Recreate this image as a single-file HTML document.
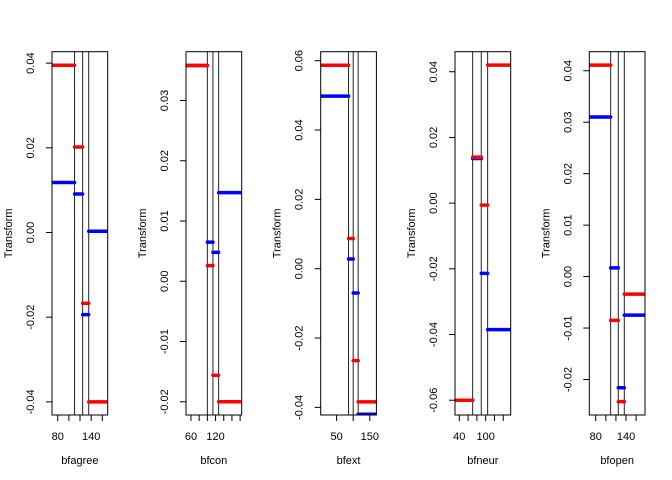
<!DOCTYPE html>
<html><head><meta charset="utf-8"><style>
body{margin:0;background:#fff}
svg{display:block;font-family:"Liberation Sans",Arial,sans-serif}
</style></head><body>
<svg id="chart" width="672" height="480" viewBox="0 0 672 480"></svg>
<script>
const varNames=["bfagree","bfcon","bfext","bfneur","bfopen"];
const boxLeft=[52,186,320.7,455,589.3];
const xLims=[[69.7,169.7],[47.9,183.8],[2,170],[30.2,157],[67.3,177.6]];
const yLims=[[-0.0431,0.0427],[-0.0222,0.0381],[-0.0422,0.0626],[-0.0645,0.0461],[-0.0269,0.0437]];
const xTicks=[[80,100,120,140,160],[60,80,100,120,140,160,180],[50,100,150],[40,60,80,100,120,140],[80,100,120,140,160]];
const xTickLabels=[["80","","","140",""],["60","","","120","","",""],["50","","150"],["40","","","100","",""],["80","","","140",""]];
const yTicks=[[-0.04,-0.02,0,0.02,0.04],[-0.02,-0.01,0,0.01,0.02,0.03],[-0.04,-0.02,0,0.02,0.04,0.06],[-0.06,-0.04,-0.02,0,0.02,0.04],[-0.02,-0.01,0,0.01,0.02,0.03,0.04]];
const yTickLabels=[["-0.04","-0.02","0.00","0.02","0.04"],["-0.02","-0.01","0.00","0.01","0.02","0.03"],["-0.04","-0.02","0.00","0.02","0.04","0.06"],["-0.06","-0.04","-0.02","0.00","0.02","0.04"],["-0.02","-0.01","0.00","0.01","0.02","0.03","0.04"]];
const cuts=[[110.2,124.7,135.6],[100,113.6,127.5],[86,100,115],[70.4,90,104.5],[109.6,124.7,136.6]];
const blueVals=[[0.0118,0.0091,-0.0194,0.0003],[0.0358,0.0065,0.0048,0.0147],[0.0498,0.0028,-0.0070,-0.042],[-0.06,0.0136,-0.0214,-0.0385],[0.031,0.0017,-0.0216,-0.0075]];
const redVals=[[0.0395,0.0202,-0.0167,-0.04],[0.0358,0.0026,-0.0156,-0.02],[0.0587,0.0087,-0.0265,-0.0384],[-0.06,0.014,-0.0006,0.042],[0.0411,-0.0085,-0.0243,-0.0034]];

const NS="http://www.w3.org/2000/svg";
const svg=document.getElementById('chart');
const TOP=51.7,BOT=415,W=55.7;
function mk(tag,attrs,parent){const e=document.createElementNS(NS,tag);for(const k in attrs)e.setAttribute(k,attrs[k]);(parent||svg).appendChild(e);return e;}
varNames.forEach((nm,p)=>{
  const L=boxLeft[p],R=L+W;
  const xs=v=>L+(v-xLims[p][0])/(xLims[p][1]-xLims[p][0])*W;
  const ys=v=>BOT-(v-yLims[p][0])/(yLims[p][1]-yLims[p][0])*(BOT-TOP);
  const g=mk('g',{});
  
  
  const cid='clip'+p;
  const cp=mk('clipPath',{id:cid},g);mk('rect',{x:L,y:TOP,width:W,height:BOT-TOP},cp);
  const bounds=[xLims[p][0],...cuts[p],xLims[p][1]];
  cuts[p].forEach(c=>{
    const l=mk('line',{x1:xs(c),x2:xs(c),y1:TOP,y2:BOT,stroke:'#222','stroke-width':1},g);
    
    
  });
  [[blueVals[p],'#0000ff','blue'],[redVals[p],'#ff0000','red']].forEach(([vals,col,n])=>{
    vals.forEach((v,i)=>{
      const s=mk('line',{x1:xs(bounds[i]),x2:xs(bounds[i+1]),y1:ys(v),y2:ys(v),stroke:col,'stroke-width':3.5,'stroke-linecap':'round','clip-path':'url(#'+cid+')'},g);
      
      
    });
  });
  const box=mk('rect',{x:L,y:TOP,width:W,height:BOT-TOP,fill:'none',stroke:'#000','stroke-width':1},g);
  
  
  xTicks[p].forEach((t,i)=>{
    const x=xs(t);
    mk('line',{x1:x,x2:x,y1:BOT,y2:BOT+6,stroke:'#000'},g);
    if(xTickLabels[p][i]){
      const tx=mk('text',{x:x,y:440,'font-size':11,'text-anchor':'middle',fill:'#000'},g);
      tx.textContent=xTickLabels[p][i];
      
      
    }
  });
  yTicks[p].forEach((t,i)=>{
    const y=ys(t);
    mk('line',{x1:L-6,x2:L,y1:y,y2:y,stroke:'#000'},g);
    const tx=mk('text',{x:L-18,y:y,'font-size':11,'text-anchor':'middle',fill:'#000',transform:`rotate(-90 ${L-18} ${y})`},g);
    tx.textContent=yTickLabels[p][i];
    
    
  });
  const xt=mk('text',{x:L+W/2,y:464,'font-size':11,'text-anchor':'middle'},g);
  xt.textContent=nm;
  
  
  const yx=L-40,yy=(TOP+BOT)/2;
  const yt=mk('text',{x:yx,y:yy,'font-size':11,'text-anchor':'middle',transform:`rotate(-90 ${yx} ${yy})`},g);
  yt.textContent='Transform';
  
  
});
</script>
</body></html>
